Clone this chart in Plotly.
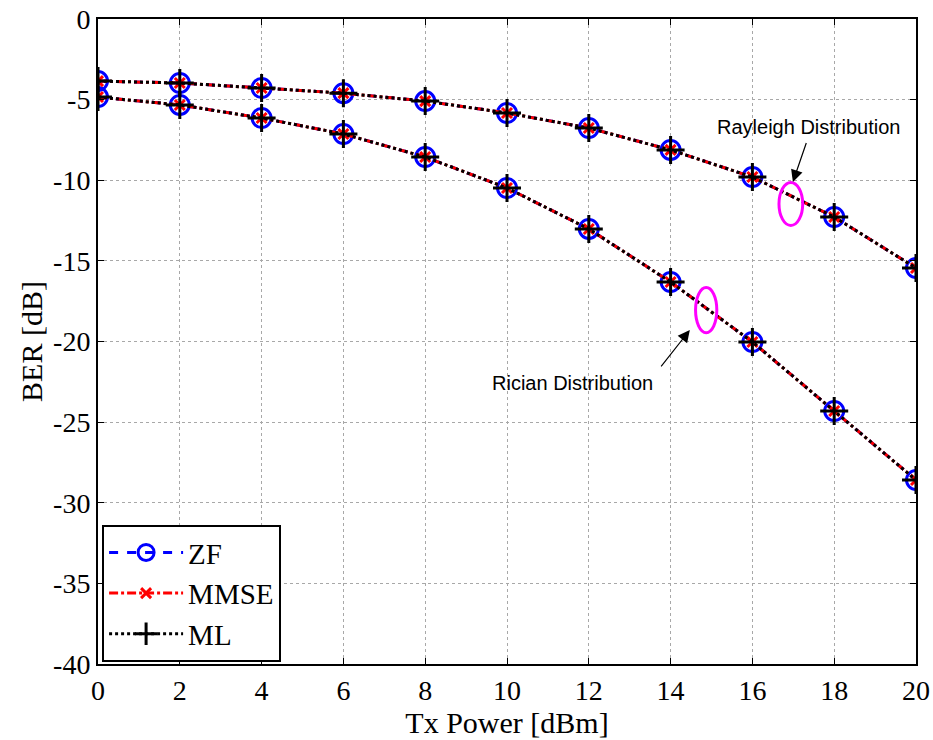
import plotly.graph_objects as go

tx_power = [0, 2, 4, 6, 8, 10, 12, 14, 16, 18, 20]
ber_rayleigh = [-3.85, -3.97, -4.28, -4.60, -5.09, -5.83, -6.76, -8.12, -9.80, -12.28, -15.44]
ber_rician = [-4.84, -5.33, -6.14, -7.13, -8.56, -10.48, -13.02, -16.31, -20.03, -24.31, -28.59]
x_ticks = list(range(0, 21, 2))
y_ticks = list(range(-40, 1, 5))
y_ticklabels = [str(v) for v in y_ticks]  # ASCII hyphen minus, as in the reference

series = [
    dict(name="ZF", color="blue", dash="dash", symbol="circle-open", msize=19, mlw=3),
    dict(name="MMSE", color="red", dash="dashdot", symbol="x-thin-open", msize=10, mlw=3),
    dict(name="ML", color="black", dash="dot", symbol="cross-thin-open", msize=20, mlw=3),
]

SERIF = "Liberation Serif, Times New Roman, serif"

fig = go.Figure()
for s in series:
    for i, yv in enumerate([ber_rayleigh, ber_rician]):
        fig.add_trace(go.Scatter(
            x=tx_power, y=yv, mode="lines+markers", name=s["name"],
            legendgroup=s["name"], showlegend=(i == 0),
            line=dict(color=s["color"], dash=s["dash"], width=3),
            marker=dict(symbol=s["symbol"], size=s["msize"], color=s["color"],
                        line=dict(color=s["color"], width=s["mlw"])),
        ))

# ellipses
fig.add_shape(type="circle", xref="x", yref="y", x0=16.65, x1=17.23, y0=-12.80, y1=-10.14,
              line=dict(color="magenta", width=3))
fig.add_shape(type="circle", xref="x", yref="y", x0=14.61, x1=15.13, y0=-19.45, y1=-16.65,
              line=dict(color="magenta", width=3))

# arrows
fig.add_annotation(x=16.99, y=-10.11, ax=17.33, ay=-7.6, axref="x", ayref="y", xref="x", yref="y",
                   text="", showarrow=True, arrowhead=2, arrowsize=2, arrowwidth=1.2, arrowcolor="black")
fig.add_annotation(x=14.47, y=-19.29, ax=13.74, ay=-21.64, axref="x", ayref="y", xref="x", yref="y",
                   text="", showarrow=True, arrowhead=2, arrowsize=2, arrowwidth=1.2, arrowcolor="black")
fig.add_annotation(x=17.36, y=-6.70, xref="x", yref="y", text="Rayleigh Distribution", showarrow=False,
                   font=dict(family="Liberation Sans", size=20, color="black"))
fig.add_annotation(x=11.61, y=-22.57, xref="x", yref="y", text="Rician Distribution", showarrow=False,
                   font=dict(family="Liberation Sans", size=20, color="black"))

axis_common = dict(
    showline=True, linecolor="black", linewidth=2, mirror="ticks",
    ticks="inside", ticklen=6, tickcolor="black",
    showgrid=True, gridcolor="#a8a8a8", gridwidth=1, griddash="dot",
    zeroline=False, automargin=False,
    tickfont=dict(family=SERIF, size=28, color="black"),
)

fig.update_xaxes(range=[0, 20], tickvals=x_ticks,
                 title=dict(text="Tx Power [dBm]", font=dict(family=SERIF, size=30, color="black"),
                            standoff=0),
                 **axis_common)
fig.update_yaxes(range=[-40, 0], tickvals=y_ticks, ticktext=y_ticklabels,
                 title=dict(text="BER [dB]", font=dict(family=SERIF, size=30, color="black"),
                            standoff=2),
                 **axis_common)

fig.update_layout(
    width=933, height=740,
    margin=dict(l=98, r=17, t=19, b=76),
    plot_bgcolor="white", paper_bgcolor="white",
    font=dict(family=SERIF, color="black"),
    legend=dict(x=0.005, y=0.003, xanchor="left", yanchor="bottom",
                bordercolor="black", borderwidth=2, bgcolor="white",
                font=dict(family=SERIF, size=29, color="black"),
                itemwidth=74, tracegroupgap=0),
)

fig.write_html("out.html")
